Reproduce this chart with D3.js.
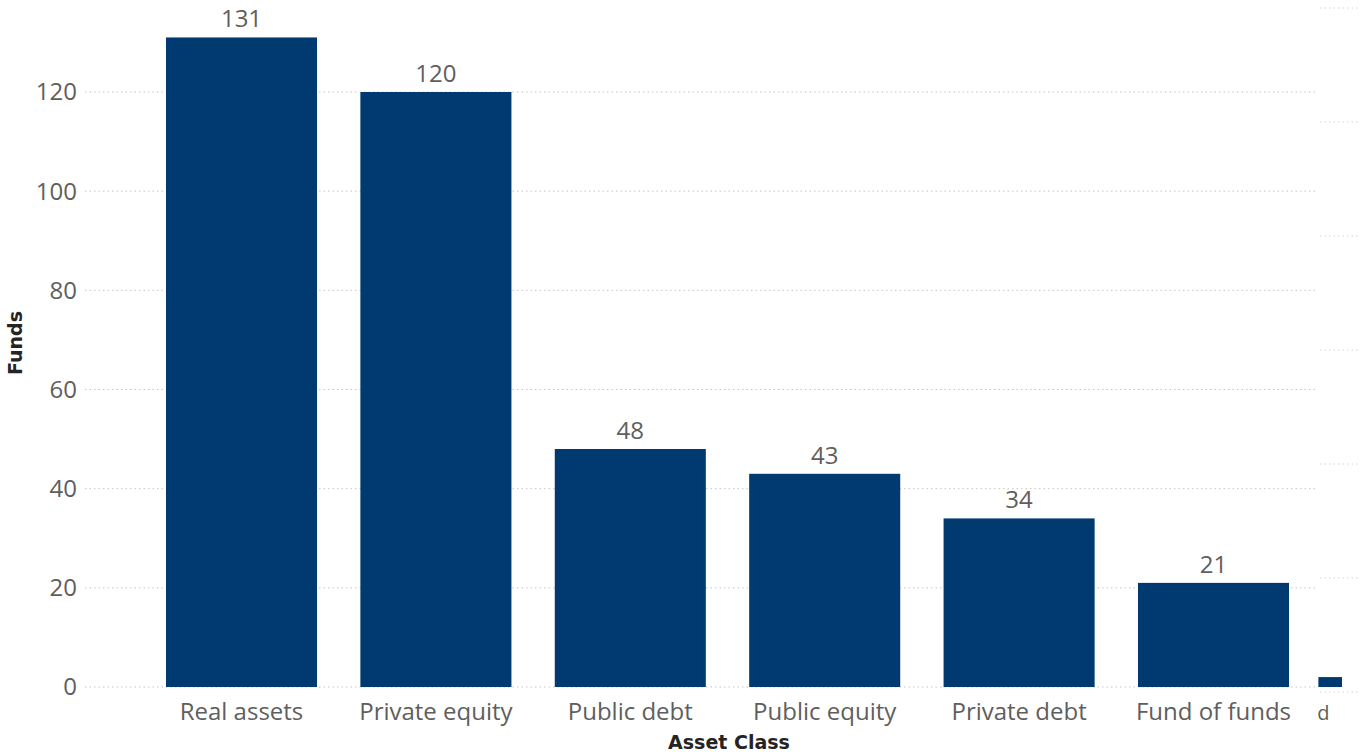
<!DOCTYPE html>
<html>
<head>
<meta charset="utf-8">
<script src="https://cdn.jsdelivr.net/npm/d3@7"></script>
<style>
  body { margin: 0; background: #fff; }
  svg text { font-family: "Open Sans", "Noto Sans", sans-serif; }
  svg text.title { font-family: "DejaVu Sans", sans-serif; }
</style>
</head>
<body>
<div id="wrapper"></div>
<script>
const categories = ["Real assets", "Private equity", "Public debt", "Public equity", "Private debt", "Fund of funds", "d"]
const funds = [131, 120, 48, 43, 34, 21, 2]
const yTicks = [0, 20, 40, 60, 80, 100, 120]

const dimensions = {
  width: 1367,
  height: 756
}

const wrapper = d3.select('#wrapper')
  .append('svg')
  .attr('width', dimensions.width)
  .attr('height', dimensions.height)

const xScale = d3.scaleBand()
  .domain(categories)
  .range([144.3, 144.3 + 194.4 * categories.length])
  .paddingInner(0.223)
  .paddingOuter(0.1115)

const yScale = d3.scaleLinear()
  .domain([0, 120])
  .range([687, 92])

// a second, mostly hidden grid peeking in at the right edge
const y2Scale = d3.scaleLinear()
  .domain([0, 120])
  .range([692, 8])

const grid = wrapper.append('g')
grid.selectAll('line.main')
  .data(yTicks)
  .join('line')
  .attr('class', 'main')
  .attr('x1', 85).attr('x2', 1317)
  .attr('y1', d => yScale(d)).attr('y2', d => yScale(d))
  .attr('stroke', '#c8c6c4')
  .attr('stroke-width', 1)
  .attr('stroke-dasharray', '1.5,3')

grid.selectAll('line.side')
  .data(yTicks)
  .join('line')
  .attr('class', 'side')
  .attr('x1', 1320).attr('x2', 1358)
  .attr('y1', d => y2Scale(d)).attr('y2', d => y2Scale(d))
  .attr('stroke', '#d6d4d2')
  .attr('stroke-width', 1)
  .attr('stroke-dasharray', '1.5,3')

// y tick labels
wrapper.append('g').selectAll('text')
  .data(yTicks)
  .join('text')
  .attr('x', 77)
  .attr('y', d => yScale(d))
  .attr('dy', '0.35em')
  .attr('text-anchor', 'end')
  .attr('font-size', 24)
  .attr('fill', '#605e5c')
  .text(d => d)

const main = categories.slice(0, 6)
const mainVals = funds.slice(0, 6)

const bars = wrapper.append('g')
bars.selectAll('rect')
  .data(main)
  .join('rect')
  .attr('x', d => xScale(d))
  .attr('width', xScale.bandwidth())
  .attr('y', (d, i) => yScale(mainVals[i]))
  .attr('height', (d, i) => yScale(0) - yScale(mainVals[i]))
  .attr('fill', '#003a70')

// data labels
wrapper.append('g').selectAll('text')
  .data(main)
  .join('text')
  .attr('x', d => xScale(d) + xScale.bandwidth() / 2)
  .attr('y', (d, i) => yScale(mainVals[i]) - 10)
  .attr('text-anchor', 'middle')
  .attr('font-size', 24)
  .attr('fill', '#605e5c')
  .text((d, i) => mainVals[i])

// category labels
wrapper.append('g').selectAll('text')
  .data(main)
  .join('text')
  .attr('x', d => xScale(d) + xScale.bandwidth() / 2)
  .attr('y', 720)
  .attr('text-anchor', 'middle')
  .attr('font-size', 24)
  .attr('fill', '#605e5c')
  .text(d => d)

// last category is cut off by the visual edge
const clip = wrapper.append('clipPath').attr('id', 'edge')
clip.append('rect').attr('x', 1314).attr('y', 0).attr('width', 28).attr('height', 756)

const last = categories[6]
const lastShift = 14
const edge = wrapper.append('g').attr('clip-path', 'url(#edge)')
edge.append('rect')
  .attr('x', xScale(last) - lastShift)
  .attr('width', xScale.bandwidth())
  .attr('y', yScale(funds[6]))
  .attr('height', yScale(0) - yScale(funds[6]))
  .attr('fill', '#003a70')
edge.append('text')
  .attr('x', xScale(last) - lastShift + 5)
  .attr('y', 720)
  .attr('text-anchor', 'middle')
  .attr('font-size', 20)
  .attr('fill', '#605e5c')
  .text(last)

// axis titles
wrapper.append('text')
  .attr('class', 'title')
  .attr('transform', 'translate(22, 343) rotate(-90)')
  .attr('text-anchor', 'middle')
  .attr('font-size', 19)
  .attr('font-weight', 'bold')
  .attr('fill', '#252423')
  .text('Funds')

wrapper.append('text')
  .attr('class', 'title')
  .attr('x', 729)
  .attr('y', 749)
  .attr('text-anchor', 'middle')
  .attr('font-size', 19)
  .attr('font-weight', 'bold')
  .attr('fill', '#252423')
  .text('Asset Class')
</script>
</body>
</html>
